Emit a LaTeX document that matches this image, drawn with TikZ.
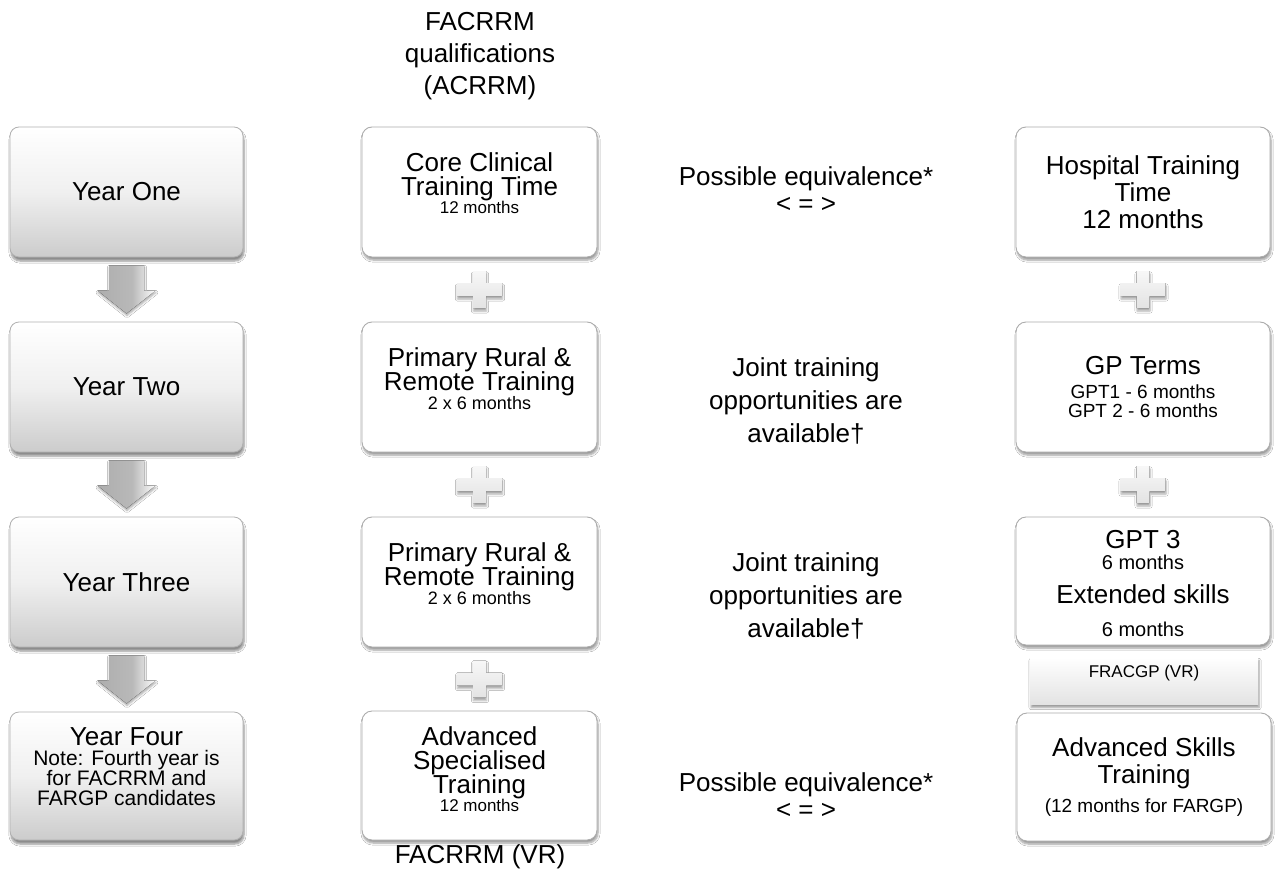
\documentclass[tikz,border=0pt]{standalone}
\usepackage{fontspec}
\setmainfont{Liberation Sans}
\usetikzlibrary{shadows.blur,calc}
\pgfdeclarehorizontalshading{arrowshade}{100bp}{color(0bp)=(gray!72); color(55bp)=(gray!55); color(74bp)=(gray!4); color(86bp)=(gray!45); color(100bp)=(gray!68)}
\begin{document}
\begin{tikzpicture}[x=1pt,y=-1pt,
  bigtext/.style={font=\fontsize{26}{27}\selectfont},
  yearbox/.style={rounded corners=9pt, minimum width=233pt, minimum height=130pt,
    top color=white, bottom color=gray!40, middle color=gray!12, draw=gray!62, line width=0.8pt,
    blur shadow={shadow xshift=1pt, shadow yshift=-4pt, shadow blur steps=6, shadow opacity=45},
    inner sep=0pt},
  plainbox/.style={rounded corners=10pt, minimum width=235pt, minimum height=130pt,
    fill=white, draw=gray!65, line width=0.9pt,
    blur shadow={shadow xshift=1pt, shadow yshift=-3pt, shadow blur steps=6, shadow opacity=40},
    inner sep=0pt},
  fracbar/.style={minimum width=228pt, minimum height=47pt, top color=white, bottom color=gray!22,
    blur shadow={shadow xshift=1pt, shadow yshift=-3pt, shadow blur steps=5, shadow opacity=40},
    font=\fontsize{17}{17}\selectfont, text height=12pt, text depth=20pt, inner sep=0pt},
  boxtext/.style={align=center, inner sep=0pt, bigtext},
  freetext/.style={align=center, inner sep=0pt, bigtext},
  plussign/.pic={
    \fill[top color=gray!6, bottom color=gray!22,
      blur shadow={shadow xshift=0.5pt, shadow yshift=-3pt, shadow blur steps=4, shadow opacity=35}]
      (-6.5,-18.5) -- (6.5,-18.5) -- (6.5,-6.5) -- (22.5,-6.5) -- (22.5,6.5) -- (6.5,6.5)
      -- (6.5,18.5) -- (-6.5,18.5) -- (-6.5,6.5) -- (-22.5,6.5) -- (-22.5,-6.5) -- (-6.5,-6.5) -- cycle;
  },
  garrow/.pic={
    \fill[shading=arrowshade,
      blur shadow={shadow xshift=0.5pt, shadow yshift=-2pt, shadow blur steps=4, shadow opacity=35}]
      (-17.5,-24) -- (17.5,-24) -- (17.5,1) -- (29,1) -- (0,24) -- (-29,1) -- (-17.5,1) -- cycle;
  }
]
\useasboundingbox (0,0) rectangle (1275,886);
\fill[white] (0,0) rectangle (1275,886);

% Year column
\node[yearbox] (y1) at (126.5,192) {};
\node[yearbox] (y2) at (126.5,387) {};
\node[yearbox] (y3) at (126.5,582) {};
\node[yearbox, minimum height=128pt] (y4) at (126.5,776) {};
\node[boxtext] (y1t) at (y1.center) {Year One};
\node[boxtext] (y2t) at (y2.center) {Year Two};
\node[boxtext] (y3t) at (y3.center) {Year Three};
\node[boxtext] (y4t) at ($(y4.center)+(0,-9)$)
  {Year Four\\[-7pt]{\fontsize{21}{21}\selectfont Note: Fourth year is}\\[-7pt]
   {\fontsize{21}{21}\selectfont for FACRRM and}\\[-7pt]{\fontsize{21}{21}\selectfont FARGP candidates}};

% Year arrows
\coordinate (a1) at ($(y1.south)!0.5!(y2.north)$);
\coordinate (a2) at ($(y2.south)!0.5!(y3.north)$);
\coordinate (a3) at ($(y3.south)!0.5!(y4.north)$);
\pic at (a1) {garrow};
\pic at (a2) {garrow};
\pic at (a3) {garrow};

% ACRRM column
\node[freetext, font=\fontsize{26}{32}\selectfont] (top) at (480,56) {FACRRM\\qualifications\\(ACRRM)};
\node[plainbox] (m1) at (479.5,192) {};
\node[plainbox] (m2) at (479.5,387) {};
\node[plainbox] (m3) at (479.5,582) {};
\node[plainbox, minimum height=129pt] (m4) at (479.5,775.5) {};
\node[boxtext] (m1t) at ($(m1.center)+(0,-9)$)
  {Core Clinical\\[-3pt]Training Time\\[-9pt]{\fontsize{17}{17}\selectfont 12 months}};
\node[boxtext] (m2t) at ($(m2.center)+(0,-8)$)
  {Primary Rural \&\\[-3pt]Remote Training\\[-8pt]{\fontsize{18}{18}\selectfont 2 x 6 months}};
\node[boxtext] (m3t) at ($(m3.center)+(0,-8)$)
  {Primary Rural \&\\[-3pt]Remote Training\\[-8pt]{\fontsize{18}{18}\selectfont 2 x 6 months}};
\node[boxtext] (m4t) at ($(m4.center)+(0,-6)$)
  {Advanced\\[-3pt]Specialised\\[-3pt]Training\\[-9pt]{\fontsize{17}{17}\selectfont 12 months}};
\node[freetext] (vr) at (480,857) {FACRRM (VR)};

\coordinate (p1) at ($(m1.south)!0.5!(m2.north)$);
\coordinate (p2) at ($(m2.south)!0.5!(m3.north)$);
\coordinate (p3) at ($(m3.south)!0.5!(m4.north)$);
\pic at (p1) {plussign};
\pic at (p2) {plussign};
\pic at (p3) {plussign};

% middle texts
\node[freetext] (e1) at (806,190) {Possible equivalence*\\< = >};
\node[freetext, font=\fontsize{26}{33}\selectfont] (j1) at (806,401) {Joint training\\opportunities are\\available†};
\node[freetext, font=\fontsize{26}{33}\selectfont] (j2) at (806,596) {Joint training\\opportunities are\\available†};
\node[freetext] (e2) at (806,796) {Possible equivalence*\\< = >};

% RACGP column
\node[plainbox, minimum width=254pt] (r1) at (1143,192) {};
\node[plainbox, minimum width=254pt] (r2) at (1143,387) {};
\node[plainbox, minimum width=254pt, minimum height=128pt] (r3) at (1143,581) {};
\node[fracbar] (fr) at (1144,681) {FRACGP (VR)};
\node[plainbox, minimum width=254pt, minimum height=128pt] (r4) at (1144,777) {};
\node[boxtext] (r1t) at (r1.center) {Hospital Training\\Time\\12 months};
\node[boxtext] (r2t) at (r2.center)
  {GP Terms\\[-3pt]{\fontsize{19}{19}\selectfont GPT1 - 6 months}\\[-8pt]{\fontsize{19}{19}\selectfont GPT 2 - 6 months}};
\node[boxtext] (r3t) at ($(r3.center)+(0,3)$)
  {GPT 3\\[-6pt]{\fontsize{20}{20}\selectfont 6 months}\\[7pt]Extended skills\\[6pt]{\fontsize{20}{20}\selectfont 6 months}};
\node[boxtext] (r4t) at (r4.center)
  {Advanced Skills\\Training\\[2pt]{\fontsize{19}{19}\selectfont (12 months for FARGP)}};

\coordinate (q1) at ($(r1.south)!0.5!(r2.north)$);
\coordinate (q2) at ($(r2.south)!0.5!(r3.north)$);
\pic at (q1) {plussign};
\pic at (q2) {plussign};
\end{tikzpicture}
\end{document}
